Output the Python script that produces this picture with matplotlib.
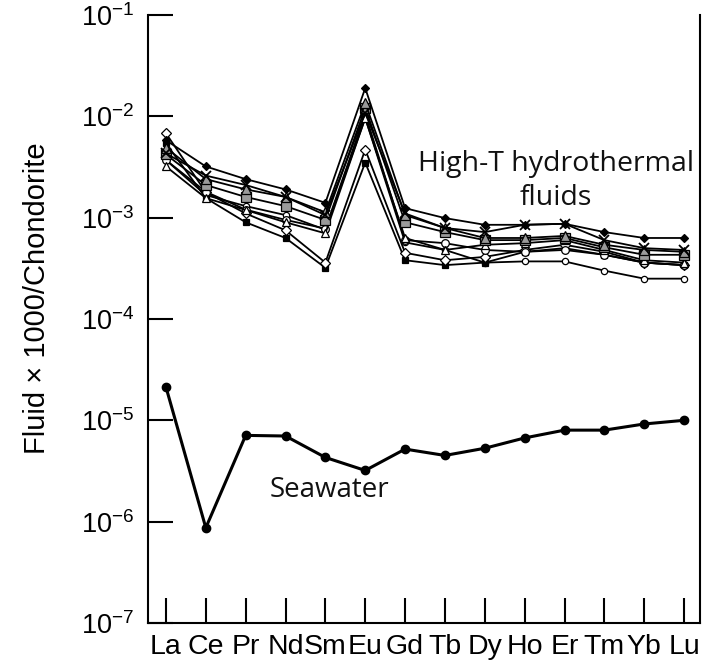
import matplotlib.pyplot as plt

plt.rcParams['font.family'] = ['Liberation Sans', 'DejaVu Sans']
plt.rcParams['mathtext.fontset'] = 'custom'
plt.rcParams['mathtext.rm'] = 'Liberation Sans'
plt.rcParams['mathtext.default'] = 'regular'

ree = ['La', 'Ce', 'Pr', 'Nd', 'Sm', 'Eu', 'Gd', 'Tb', 'Dy', 'Ho', 'Er', 'Tm', 'Yb', 'Lu']

# seawater, normalised
seawater = [2.13e-5, 8.7e-7, 7.1e-6, 7.0e-6, 4.3e-6, 3.2e-6, 5.2e-6,
            4.5e-6, 5.3e-6, 6.7e-6, 8.0e-6, 8.0e-6, 9.2e-6, 1.0e-5]

# high-T vent fluids
fluid_a = [0.0058, 0.0032, 0.0024, 0.0019, 0.0014, 0.019, 0.00124,
           0.00099, 0.00085, 0.00085, 0.00087, 0.00072, 0.00063, 0.00063]
fluid_b = [0.0043, 0.0026, 0.0021, 0.0016, 0.00106, 0.0108, 0.0011,
           0.00079, 0.00072, 0.00085, 0.00087, 0.0006, 0.0005, 0.00048]
fluid_c = [0.0049, 0.0024, 0.0019, 0.0016, 0.00113, 0.0135, 0.00106,
           0.00079, 0.00063, 0.00063, 0.00066, 0.00054, 0.00048, 0.00046]
fluid_d = [0.0042, 0.0021, 0.0016, 0.0013, 0.00095, 0.0121, 0.0009,
           0.00072, 0.0006, 0.0006, 0.00063, 0.00051, 0.00043, 0.00043]
fluid_e = [0.0032, 0.00156, 0.00119, 0.0009, 0.0007, 0.0096, 0.00063,
           0.00048, 0.00054, 0.00056, 0.0006, 0.00048, 0.00038, 0.00036]
fluid_f = [0.0037, 0.0018, 0.0012, 0.00095, 0.00078, 0.0105, 0.0006,
           0.00056, 0.00048, 0.00046, 0.00048, 0.00043, 0.00036, 0.00034]
fluid_g = [0.0068, 0.00178, 0.0011, 0.00075, 0.00036, 0.0047, 0.00045,
           0.00038, 0.00041, 0.00048, 0.00054, 0.00046, 0.00036, 0.00034]
fluid_h = [0.0054, 0.00156, 0.0009, 0.00063, 0.00032, 0.0035, 0.00038,
           0.00034, 0.00036, 0.00046, 0.0005, 0.00043, 0.00036, 0.00034]
fluid_i = [0.0037, 0.00167, 0.0013, 0.00106, 0.00076, 0.0096, 0.00057,
           0.00048, 0.00036, 0.00037, 0.00037, 0.0003, 0.00025, 0.00025]

gray = '#9a9a9a'
styles = [
    (fluid_i, dict(marker='o', mfc='white', ms=4.5)),
    (fluid_h, dict(marker='s', mfc='black', ms=5)),
    (fluid_g, dict(marker='D', mfc='white', ms=5)),
    (fluid_f, dict(marker='o', mfc='white', ms=5.5)),
    (fluid_e, dict(marker='^', mfc='white', ms=6)),
    (fluid_d, dict(marker='s', mfc=gray, ms=7)),
    (fluid_c, dict(marker='^', mfc=gray, ms=7)),
    (fluid_b, dict(marker='x', mfc='black', ms=7, mew=1.3)),
    (fluid_a, dict(marker='D', mfc='black', ms=4.5)),
]

fig = plt.figure(figsize=(7.13, 6.66), dpi=100)
ax = fig.add_axes([0.2076, 0.0646, 0.7742, 0.9129])

x = list(range(len(ree)))
for vals, kw in styles:
    ax.plot(x, vals, color='black', lw=1.3, mec='black', mew=kw.pop('mew', 0.9), **kw)

ax.plot(x, seawater, color='black', lw=2.2, marker='o', ms=6)

ax.set_yscale('log')
ax.set_ylim(1e-7, 1e-1)
ax.set_xlim(-0.45, 13.4)
ax.minorticks_off()

ax.set_xticks(x)
ax.set_xticklabels(ree, fontsize=20.5)
yt = [1e-7, 1e-6, 1e-5, 1e-4, 1e-3, 1e-2, 1e-1]
ax.set_yticks(yt)
ax.set_yticklabels(['$10^{-%d}$' % n for n in [7, 6, 5, 4, 3, 2, 1]], fontsize=19.5)

ax.tick_params(axis='both', direction='in', length=18, width=1.5, color='black')
ax.tick_params(axis='x', pad=8)
ax.tick_params(axis='y', pad=10)

ax.spines['top'].set_visible(False)
for s in ['left', 'bottom', 'right']:
    ax.spines[s].set_linewidth(1.5)

ax.set_ylabel('Fluid × 1000/Chondorite', fontsize=21)
ax.yaxis.set_label_coords(-0.175, 0.535)

ax.text(9.78, 2.3e-3, 'High-T hydrothermal\nfluids', fontsize=20.5,
        family=['Open Sans', 'DejaVu Sans'], ha='center', va='center',
        linespacing=1.25, color='#111111')
ax.text(4.1, 2.05e-6, 'Seawater', fontsize=20,
        family=['Open Sans', 'DejaVu Sans'], ha='center', va='center',
        color='#111111')

fig.savefig('out.png', dpi=100)
